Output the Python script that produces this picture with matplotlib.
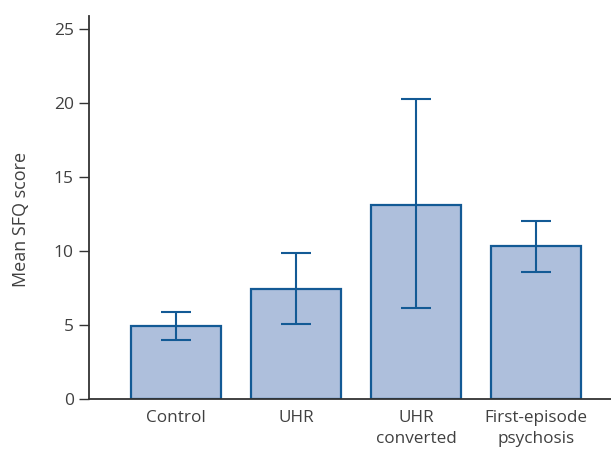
import matplotlib.pyplot as plt
import numpy as np

plt.rcParams['font.family'] = ['Open Sans', 'DejaVu Sans']

groups = ["Control", "UHR", "UHR\nconverted", "First-episode\npsychosis"]
means = [4.94, 7.44, 13.1, 10.34]
err_hi = [5.86, 9.87, 20.26, 12.03]
err_lo = [3.97, 5.07, 6.13, 8.59]

FILL = "#aebfdc"
EDGE = "#135a95"
AXC = "#333333"
TXT = "#404040"

fig = plt.figure(figsize=(6.11, 4.5), dpi=100)
ax = fig.add_axes([89/611, 51/450, 1 - 89/611, 383/450])

x = np.arange(len(groups))
means = np.array(means)
yerr = np.array([means - np.array(err_lo), np.array(err_hi) - means])

ax.bar(x, means, width=0.75, color=FILL, edgecolor=EDGE, linewidth=1.6, zorder=2)
ax.errorbar(x, means, yerr=yerr, fmt='none', ecolor=EDGE, elinewidth=1.5,
            capsize=11, capthick=1.5, zorder=3)

ax.set_xlim(-0.725, 3.625)
ax.set_ylim(0, 25.9)
ax.set_yticks([0, 5, 10, 15, 20, 25])
ax.set_xticks(x)
ax.set_xticklabels(groups, fontsize=12.3, color=TXT, linespacing=1.4)
ax.tick_params(axis='x', length=0, pad=8)
ax.tick_params(axis='y', length=7, width=1, color=AXC, labelsize=12.5, labelcolor=TXT, pad=4)
for s in ['top', 'right']:
    ax.spines[s].set_visible(False)
for s in ['left', 'bottom']:
    ax.spines[s].set_color(AXC)
    ax.spines[s].set_linewidth(1.3)
ax.set_ylabel("Mean SFQ score", fontsize=13, color=TXT, labelpad=17, y=0.47)

fig.savefig("out.png", dpi=100)
